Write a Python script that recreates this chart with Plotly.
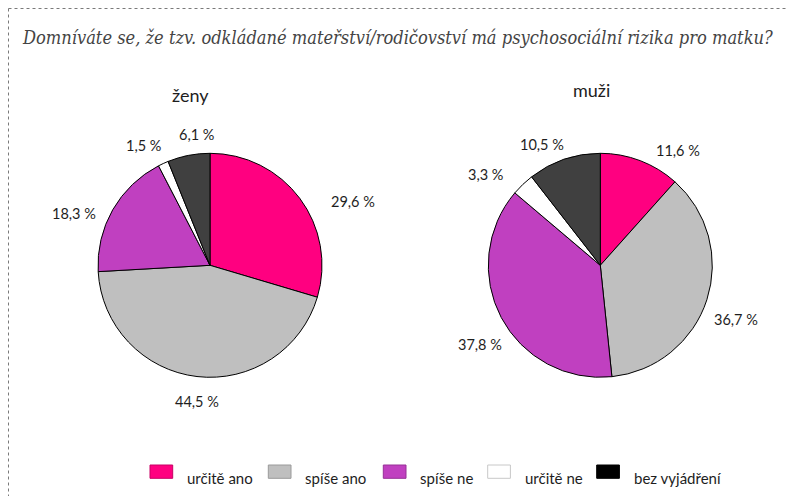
import math
import plotly.graph_objects as go

# ---------------- data ----------------
categories = ["určitě ano", "spíše ano", "spíše ne", "určitě ne", "bez vyjádření"]
zeny_values = [29.6, 44.5, 18.3, 1.5, 6.1]
muzi_values = [11.6, 36.7, 37.8, 3.3, 10.5]
pie_titles = ["ženy", "muži"]
chart_title = "Domníváte se, že tzv. odkládané mateřství/rodičovství má psychosociální rizika pro matku?"

# ---------------- style ----------------
PAGE_OFFSET = 8  # the browser page puts the figure 8 px from the top-left corner
W, H = 795 - PAGE_OFFSET, 496 - PAGE_OFFSET
slice_colors = ["#FF0080", "#BFBFBF", "#C040C0", "#FFFFFF", "#404040"]
legend_colors = ["#FF0080", "#BFBFBF", "#C040C0", "#FFFFFF", "#000000"]
legend_borders = ["#C80064", "#9A9A9A", "#963096", "#C8C8C8", "#000000"]
label_font = dict(family="Lato, Carlito, sans-serif", size=14.5, color="#1e1e1e")
legend_font = dict(family="Lato, Carlito, sans-serif", size=15, color="#1e1e1e")

# positions given in page pixels
pie_centers = [(210.0, 265.3), (600.3, 265.3)]
pie_radius = 112.0
pie_title_pos = [(190.5, 95.0), (591.3, 90.0)]
# label placement (radial factor, angular nudge in degrees) per slice
label_k = [[1.397, 1.223, 1.297, 1.219, 1.170],
           [1.241, 1.306, 1.288, 1.301, 1.203]]
label_dtheta = [[12.7, -1.4, -8.6, -4.4, 5.15],
                [13.07, 4.0, -5.7, -7.9, -6.9]]
legend_sq_x = [150.0, 268.3, 383.3, 487.7, 596.7]
legend_sq_w, legend_sq_y0, legend_sq_y1 = 22.7, 465.0, 478.3
legend_text_gap = 12.3
legend_text_y = 477.5


def px2x(px):
    return (px - PAGE_OFFSET) / W


def py2y(py):
    return 1 - (py - PAGE_OFFSET) / H


fig = go.Figure()
all_values = [zeny_values, muzi_values]
annotations = []
for i, vals in enumerate(all_values):
    cx, cy = pie_centers[i]
    fig.add_trace(go.Pie(
        labels=categories,
        values=vals,
        sort=False,
        direction="clockwise",
        rotation=0,
        textinfo="none",
        hoverinfo="label+value",
        showlegend=False,
        marker=dict(colors=slice_colors, line=dict(color="#000000", width=1)),
        domain=dict(x=[px2x(cx - pie_radius), px2x(cx + pie_radius)],
                    y=[py2y(cy + pie_radius), py2y(cy - pie_radius)]),
    ))
    total = sum(vals)
    cum = 0.0
    for j, v in enumerate(vals):
        mid = (cum + v / 2) / total * 360.0
        cum += v
        th = math.radians(mid + label_dtheta[i][j])
        d = pie_radius * label_k[i][j]
        lx = cx + d * math.sin(th)
        ly = cy - d * math.cos(th)
        annotations.append(dict(
            x=px2x(lx), y=py2y(ly), xref="paper", yref="paper",
            text=f"{v:.1f}".replace(".", ",") + " %",
            showarrow=False, xanchor="center", yanchor="middle",
            font=label_font))
    tx, ty = pie_title_pos[i]
    annotations.append(dict(
        x=px2x(tx), y=py2y(ty), xref="paper", yref="paper",
        text=pie_titles[i], showarrow=False, xanchor="center", yanchor="middle",
        font=dict(family="Lato, Carlito, sans-serif", size=18, color="#1e1e1e")))

# chart title
annotations.append(dict(
    x=px2x(20), y=py2y(37), xref="paper", yref="paper", text=f"<i>{chart_title}</i>",
    showarrow=False, xanchor="left", yanchor="middle",
    font=dict(family="DejaVu Serif Condensed, DejaVu Serif, serif", size=18.1, color="#444444")))

shapes = []
# dotted frame (top and left)
shapes.append(dict(type="line", xref="paper", yref="paper",
                   x0=px2x(8.5), x1=1, y0=py2y(8.5), y1=py2y(8.5),
                   line=dict(color="#7a7a7a", width=1, dash="dot")))
shapes.append(dict(type="line", xref="paper", yref="paper",
                   x0=px2x(8.5), x1=px2x(8.5), y0=py2y(8.5), y1=0,
                   line=dict(color="#7a7a7a", width=1, dash="dot")))

# legend
for k, name in enumerate(categories):
    x0 = legend_sq_x[k]
    shapes.append(dict(type="rect", xref="paper", yref="paper",
                       x0=px2x(x0), x1=px2x(x0 + legend_sq_w),
                       y0=py2y(legend_sq_y1), y1=py2y(legend_sq_y0),
                       fillcolor=legend_colors[k],
                       line=dict(color=legend_borders[k], width=1)))
    annotations.append(dict(
        x=px2x(x0 + legend_sq_w + legend_text_gap), y=py2y(legend_text_y),
        xref="paper", yref="paper", text=name, showarrow=False,
        xanchor="left", yanchor="middle", font=legend_font))

fig.update_layout(
    width=W, height=H,
    margin=dict(l=0, r=0, t=0, b=0),
    paper_bgcolor="#FFFFFF", plot_bgcolor="#FFFFFF",
    annotations=annotations, shapes=shapes,
    showlegend=False,
)

fig.write_html("out.html")
